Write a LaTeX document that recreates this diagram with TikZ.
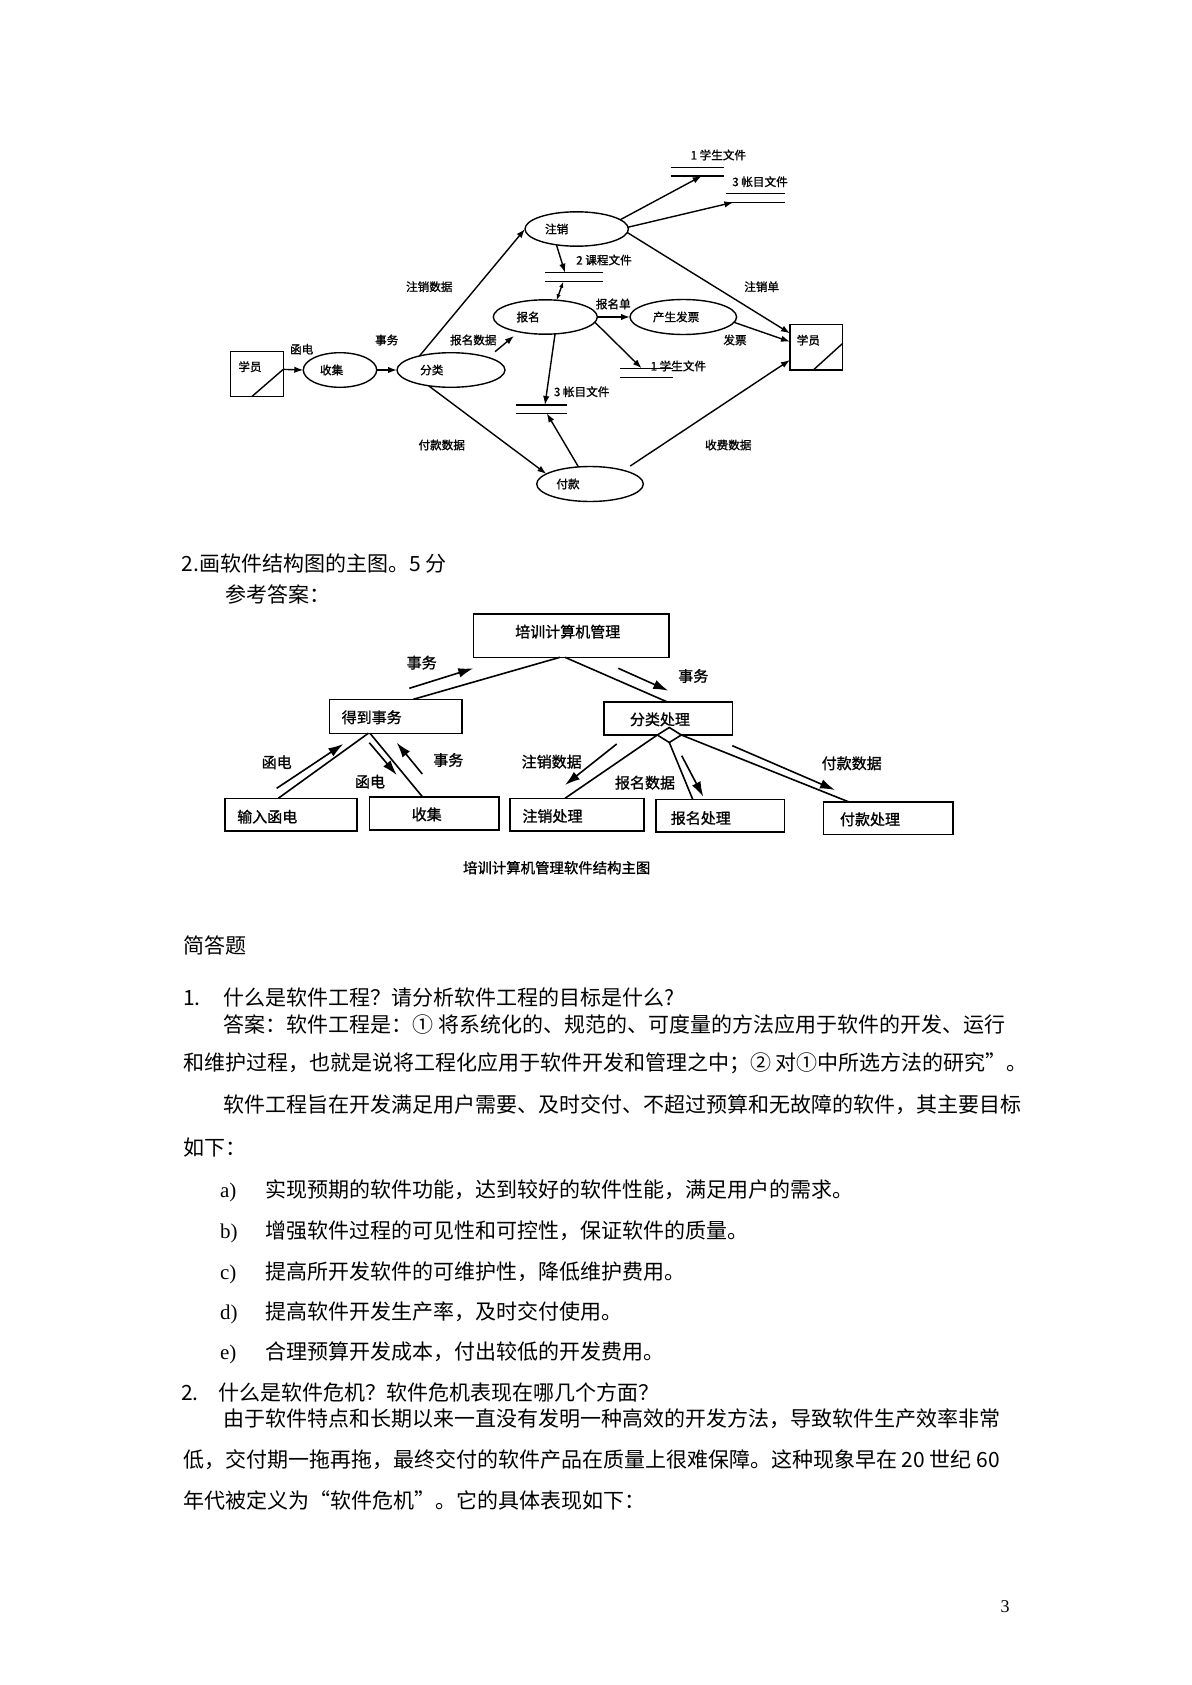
\documentclass[tikz,border=0pt]{standalone}
\usepackage{fontspec}
\setmainfont{Liberation Serif}
\newfontfamily\cjk{Noto Sans CJK SC}
\newfontfamily\cjkb[FakeBold=1.2]{Noto Sans CJK SC}
\usetikzlibrary{arrows.meta,shapes.geometric,calc}

\begin{document}
\begin{tikzpicture}[x=0.5pt,y=-0.5pt,
  every node/.style={inner sep=0pt, outer sep=0pt},
  txt/.style={font=\cjk\fontsize{10.5pt}{12pt}\selectfont, anchor=west, text height=9pt, text depth=1.5pt},
  lat/.style={font=\fontsize{10.5pt}{12pt}\selectfont, anchor=west, text height=9pt, text depth=1.5pt},
  dl/.style={font=\cjkb\fontsize{5.8pt}{7pt}\selectfont},
  proc/.style={ellipse, draw, line width=0.7pt},
  ext/.style={rectangle, draw, line width=0.7pt},
  store/.style={rectangle},
  darr/.style={line width=0.7pt, -{Latex[length=4.5pt,width=3.2pt]}},
  sbox/.style={rectangle, draw, line width=0.8pt},
  sl/.style={font=\cjkb\fontsize{7.5pt}{9pt}\selectfont},
  sarr/.style={line width=0.8pt, -{Latex[length=7.5pt,width=4.8pt]}},
  sline/.style={line width=0.8pt},
]
\useasboundingbox[fill=white] (0,0) rectangle (1191,1685);

% ---------------- data flow diagram ----------------
\node[ext, minimum width=26.3pt, minimum height=22.5pt, label={[dl,xshift=-3.5pt,yshift=3.75pt]center:学员}] (xy1) at (257,374.2) {};
\draw[line width=0.7pt] ([xshift=10.5pt]xy1.south west) -- ([yshift=2.45pt]xy1.east);
\node[proc, minimum width=36.7pt, minimum height=17.3pt, label={[dl,xshift=-4.2pt]center:收集}] (sj) at (340,370) {};
\node[proc, minimum width=54pt, minimum height=17.3pt, label={[dl,xshift=-9.6pt]center:分类}] (fl) at (451,370) {};
\node[proc, minimum width=51.7pt, minimum height=17.2pt, label={[dl,xshift=-10pt]center:注销}] (zx) at (576.7,229) {};
\node[proc, minimum width=52pt, minimum height=17.2pt, label={[dl,xshift=-8.6pt]center:报名}] (bm) at (545.3,317) {};
\node[proc, minimum width=53.3pt, minimum height=17.5pt, label={[dl,xshift=-11pt]center:付款}] (fk) at (590,484) {};
\node[proc, minimum width=53.3pt, minimum height=17.5pt, label={[dl,xshift=-3.6pt]center:产生发票}] (fp) at (683.3,317) {};
\node[ext, minimum width=26.35pt, minimum height=22.85pt, label={[dl,xshift=-4pt,yshift=3.5pt]center:学员}] (xy2) at (816.35,347.15) {};
\draw[line width=0.7pt] ([xshift=11.65pt]xy2.south west) -- ([yshift=1.9pt]xy2.east);

\node[store, minimum width=28.85pt, minimum height=4.5pt] (s2) at (573.85,277.2) {};
\node[store, minimum width=25.35pt, minimum height=4.15pt] (s3a) at (541.35,409.15) {};
\node[store, minimum width=26.8pt, minimum height=4.35pt] (s1a) at (697.5,171.65) {};
\node[store, minimum width=29.65pt, minimum height=4.5pt] (s3b) at (755.35,197.8) {};
\node[store, minimum width=26.65pt, minimum height=4.7pt] (s1b) at (646.65,373) {};
\foreach \s in {s2,s3a,s1a,s3b,s1b}
  \draw[line width=0.7pt] (\s.north west) -- (\s.north east) (\s.south west) -- (\s.south east);

\node[dl] (ls2) at (604,260) {2 课程文件};
\node[dl] (ls3a) at (581.7,391.7) {3 帐目文件};
\node[dl] (ls1a) at (718.3,155) {1 学生文件};
\node[dl] (ls3b) at (760,181.7) {3 帐目文件};
\node[dl] (ls1b) at (678.3,366) {1 学生文件};

\draw[darr] ([yshift=2.4pt]xy1.east) -- (sj.west);
\draw[darr] (sj.east) -- (fl.west);
\draw[darr] (fl.156) -- (zx.west);
\draw[darr] ([xshift=1.3pt,yshift=3.6pt]fl.15) -- ([xshift=-2.75pt,yshift=-2pt]bm.210);
\draw[darr] (fl.215) -- (fk.167);
\draw[darr] (zx.218) -- ([xshift=-4.4pt]s2.north);
\draw[line width=0.7pt, {Latex[length=3pt,width=2.2pt]}-{Latex[length=3pt,width=2.2pt]}] ([xshift=-5.3pt]s2.south) -- (bm.56);
\draw[darr] (bm.300) -- ([xshift=1.8pt]s3a.north);
\draw[darr] (fk.124) -- ([xshift=2.7pt]s3a.south);
\draw[darr] (bm.east) -- (fp.west);
\draw[darr] (bm.354) -- ([xshift=-2.5pt]s1b.north);
\draw[darr] (zx.12) -- ([xshift=2.1pt]s1a.south);
\draw[darr] (zx.2) -- ([xshift=-11pt]s3b.south);
\draw[darr] (zx.356) -- ([yshift=6.9pt]xy2.west);
\draw[darr] (fp.354) -- ([yshift=2.7pt]xy2.west);
\draw[darr, shorten <=4pt] (fk.22) -- ([yshift=-6.4pt]xy2.west);

\node[dl] (d1) at (301.7,349.3) {函电};
\node[dl] (d2) at (386.7,340) {事务};
\node[dl] (d3) at (429.3,286.7) {注销数据};
\node[dl] (d4) at (473.3,340) {报名数据};
\node[dl] (d5) at (441.7,445) {付款数据};
\node[dl] (d6) at (613.3,304) {报名单};
\node[dl] (d7) at (761.7,286.7) {注销单};
\node[dl] (d8) at (735,340) {发票};
\node[dl] (d9) at (728.3,445) {收费数据};

% ---------------- text ----------------
\node[txt] (h1) at (181.7,564) {2.画软件结构图的主图。5 分};
\node[txt] (h2) at (225,595) {参考答案：};

% ---------------- structure chart ----------------
\node[sbox, minimum width=97.85pt, minimum height=21.65pt, label={[sl,xshift=-1.7pt,yshift=2pt]center:培训计算机管理}] (px) at (571.15,635.65) {};
\node[sbox, minimum width=66.2pt, minimum height=17pt, label={[sl,xshift=-11.9pt,yshift=-0.5pt]center:得到事务}] (dd) at (395.5,716.3) {};
\node[sbox, minimum width=64.15pt, minimum height=16.65pt, label={[sl,xshift=-4.1pt,yshift=-0.5pt]center:分类处理}] (fc) at (668.15,718.35) {};
\node[sbox, minimum width=65.85pt, minimum height=16.2pt, label={[sl,xshift=-11.8pt,yshift=-1.1pt]center:输入函电}] (sr) at (290.85,814.5) {};
\node[sbox, minimum width=64.85pt, minimum height=16.65pt, label={[sl,xshift=-3.7pt,yshift=-0.5pt]center:收集}] (sj2) at (434.15,813.35) {};
\node[sbox, minimum width=67pt, minimum height=16.2pt, label={[sl,xshift=-12.25pt,yshift=-0.75pt]center:注销处理}] (zc) at (577,814.5) {};
\node[sbox, minimum width=64.3pt, minimum height=16.2pt, label={[sl,xshift=-9.6pt,yshift=-1.25pt]center:报名处理}] (bc) at (720,815.5) {};
\node[sbox, minimum width=64.7pt, minimum height=16.3pt, label={[sl,xshift=-9pt,yshift=-0.65pt]center:付款处理}] (fc2) at (888,818) {};
\node[diamond, draw, line width=0.8pt, fill=white, minimum width=12pt, minimum height=7.5pt] (dm) at (669.3,735) {};

\draw[sline] ([xshift=8.9pt]dd.north) -- ([xshift=-5.6pt]px.south);
\draw[sline] ([xshift=-3.1pt]px.south) -- ([xshift=-0.7pt]fc.north);
\draw[sline] ([xshift=-6.3pt]sr.north) -- ([xshift=-13.6pt]dd.south);
\draw[sline] ([xshift=-12.75pt]dd.south) -- ([xshift=-5.9pt]sj2.north);
\draw[sline] (dm.west) -- ([xshift=-6pt]zc.north);
\draw[sline] (dm.south) -- ([xshift=-13.65pt]bc.north);
\draw[sline] (dm.east) -- ([xshift=-19.85pt]fc2.north);

\coordinate (a1s) at (409.3,688.3); \coordinate (a1e) at (473.3,668.3);
\coordinate (a2s) at (618.3,668.3); \coordinate (a2e) at (668.3,690.7);
\coordinate (a3s) at (276.7,788.3); \coordinate (a3e) at (343.3,744);
\coordinate (a4s) at (369.3,742.7); \coordinate (a4e) at (396.7,775);
\coordinate (a5s) at (422.3,774);   \coordinate (a5e) at (396.7,742.7);
\coordinate (a6s) at (616.7,744);   \coordinate (a6e) at (565,785);
\coordinate (a7s) at (681.7,755.7); \coordinate (a7e) at (703.3,796.7);
\coordinate (a8s) at (732.3,745.7); \coordinate (a8e) at (835,790);
\foreach \i in {1,...,8} \draw[sarr] (a\i s) -- (a\i e);

\node[sl] (e1) at (421.7,662.7) {事务};
\node[sl] (e2) at (693.3,676) {事务};
\node[sl] (e3) at (276.7,762.3) {函电};
\node[sl] (e4) at (370,781.7) {函电};
\node[sl] (e5) at (448.3,760) {事务};
\node[sl] (e6) at (551.7,761.7) {注销数据};
\node[sl] (e7) at (645,782.7) {报名数据};
\node[sl] (e8) at (851.7,763.3) {付款数据};
\node[sl, font=\cjkb\fontsize{7.2pt}{9pt}\selectfont] (cap) at (556.7,867.7) {培训计算机管理软件结构主图};

% ---------------- body text ----------------
\node[txt] (b0) at (183,946) {简答题};
\node[txt] (b1n) at (183,998) {1.};
\node[txt] (b1) at (223.3,998) {什么是软件工程？请分析软件工程的目标是什么?};
\node[txt] (b2) at (223.3,1024.5) {答案：软件工程是：① 将系统化的、规范的、可度量的方法应用于软件的开发、运行};
\node[txt] (b3) at (183,1062.5) {和维护过程，也就是说将工程化应用于软件开发和管理之中；② 对①中所选方法的研究”。};
\node[txt] (b4) at (223.3,1105) {软件工程旨在开发满足用户需要、及时交付、不超过预算和无故障的软件，其主要目标};
\node[txt] (b5) at (183,1148) {如下：};
\node[lat] (la) at (220,1190) {a)};
\node[txt] (ta) at (265,1190) {实现预期的软件功能，达到较好的软件性能，满足用户的需求。};
\node[lat] (lb) at (220,1231) {b)};
\node[txt] (tb) at (265,1231) {增强软件过程的可见性和可控性，保证软件的质量。};
\node[lat] (lc) at (220,1272) {c)};
\node[txt] (tc) at (265,1272) {提高所开发软件的可维护性，降低维护费用。};
\node[lat] (ld) at (220,1311.5) {d)};
\node[txt] (td) at (265,1311.5) {提高软件开发生产率，及时交付使用。};
\node[lat] (le) at (220,1352) {e)};
\node[txt] (te) at (265,1352) {合理预算开发成本，付出较低的开发费用。};
\node[txt] (c1n) at (181,1393) {2.};
\node[txt] (c1) at (218,1393) {什么是软件危机？软件危机表现在哪几个方面？};
\node[txt] (c2) at (223,1419) {由于软件特点和长期以来一直没有发明一种高效的开发方法，导致软件生产效率非常};
\node[txt] (c3) at (183,1460) {低，交付期一拖再拖，最终交付的软件产品在质量上很难保障。这种现象早在 20 世纪 60};
\node[txt] (c4) at (183,1500.5) {年代被定义为“软件危机”。它的具体表现如下：};
\node[font=\fontsize{9pt}{10pt}\selectfont] (pg) at (1005,1607) {3};
\end{tikzpicture}
\end{document}
